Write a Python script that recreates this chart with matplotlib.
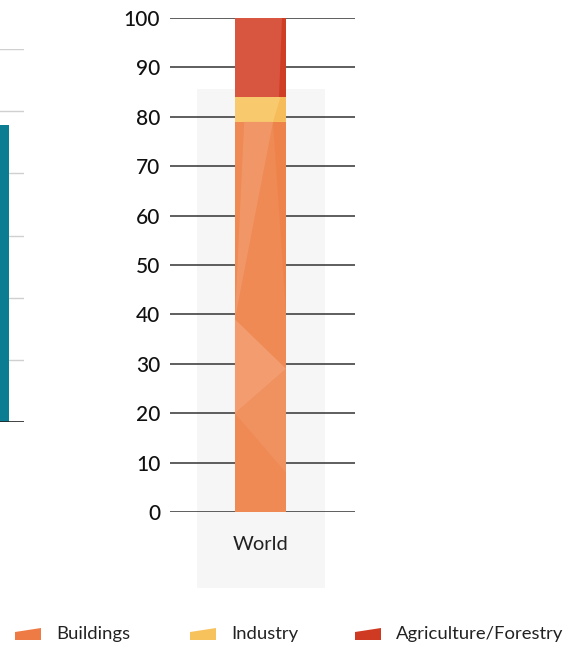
import numpy as np
import matplotlib.pyplot as plt
from matplotlib.patches import Rectangle, Polygon

# donnees
region = ["World"]
buildings = [79]
industry = [5]
agriculture = [16]
yticks = [0, 10, 20, 30, 40, 50, 60, 70, 80, 90, 100]
series_names = ["Buildings", "Industry", "Agriculture/Forestry"]
series_colors = ["#ef8a55", "#f8c96d", "#d8553f"]
legend_colors = ["#ee7b45", "#f7c25c", "#cf3a22"]

# graphique voisin coupe a gauche
left_value = [47.8]
left_ticks = [0, 10, 20, 30, 40, 50, 60]

W, H = 566, 645
fig = plt.figure(figsize=(W / 100, H / 100), dpi=100)
plt.rcParams['font.family'] = ['Lato', 'DejaVu Sans']

def px_axes(x0, x1, ytop, ybot):
    return fig.add_axes([x0 / W, 1 - ybot / H, (x1 - x0) / W, (ybot - ytop) / H])

# --- graphique principal ---
ax = px_axes(170, 355, 18, 512)
ax.set_xlim(0, 1)
ax.set_ylim(0, 100)

# panneau gris derriere la barre
ax.add_patch(Rectangle((0.146, -0.154), 0.692, 1.01, transform=ax.transAxes,
                       facecolor="#f6f6f6", edgecolor="none", zorder=0, clip_on=False))

for t in yticks:
    ax.axhline(t, color="#333333", lw=1.1, zorder=1)

x = [0.489]
w = 0.276
bottom = np.zeros(1)
for vals, col in zip([buildings, industry, agriculture], series_colors):
    ax.bar(x, vals, width=w, bottom=bottom, color=col, edgecolor="none", zorder=2)
    bottom = bottom + np.array(vals)

# facettes claires sur la barre
xl, xr = x[0] - w / 2, x[0] + w / 2
facets = [
    ([(xl, 39), (xr, 29), (xl, 20)], "#f4a57c", 0.7),
    ([(xl, 20), (xr, 29), (xr, 8)], "#f29a6c", 0.5),
    ([(xl, 39), (xl + 0.05, 79), (xr - 0.07, 79)], "#f4a57c", 0.45),
    ([(xr - 0.03, 84), (xr - 0.07, 79), (xr, 79), (xr, 84)], "#f5b955", 0.8),
    ([(xr - 0.02, 100), (xr, 100), (xr, 84), (xr - 0.04, 84)], "#cf3b23", 0.9),
    ([(xr - 0.07, 79), (xr, 79), (xr, 40)], "#ee8048", 0.7),
]
for pts, col, a in facets:
    ax.add_patch(Polygon(pts, closed=True, facecolor=col, edgecolor="none", alpha=a, zorder=3))

ax.set_yticks(yticks)
ax.set_yticklabels([str(t) for t in yticks], fontsize=15, color="#111111", fontweight="medium")
ax.set_xticks(x)
ax.set_xticklabels(region, fontsize=14.5, color="#222222")
ax.tick_params(axis="y", length=0, pad=7)
ax.tick_params(axis="x", length=0, pad=17)
for s in ax.spines.values():
    s.set_visible(False)
ax.patch.set_alpha(0)

# --- graphique voisin (coupe) ---
ax2 = px_axes(0, 24, 49, 422)
ax2.set_xlim(0, 1)
ax2.set_ylim(0, 60)
for t in left_ticks[1:]:
    ax2.axhline(t, color="#d0d0d0", lw=1.0, zorder=1)
ax2.axhline(0, color="#222222", lw=1.2, zorder=3)
ax2.bar([0], left_value, width=0.75, color="#0a7d92", edgecolor="none", zorder=2)
ax2.set_xticks([])
ax2.set_yticks([])
for s in ax2.spines.values():
    s.set_visible(False)
ax2.patch.set_alpha(0)

# --- legende ---
leg_x = [15, 190, 355]
for name, col, lx in zip(series_names, legend_colors, leg_x):
    y0 = 1 - 640 / H
    pts = [(lx / W, y0), ((lx + 26) / W, y0), ((lx + 26) / W, y0 + 12 / H), (lx / W, y0 + 8 / H)]
    fig.patches.append(Polygon(pts, closed=True, transform=fig.transFigure,
                               facecolor=col, edgecolor="none"))
    fig.text((lx + 41) / W, 1 - 634 / H, name, fontsize=13.3, color="#222222",
             va="center", ha="left")

fig.savefig("out.png", dpi=100)
